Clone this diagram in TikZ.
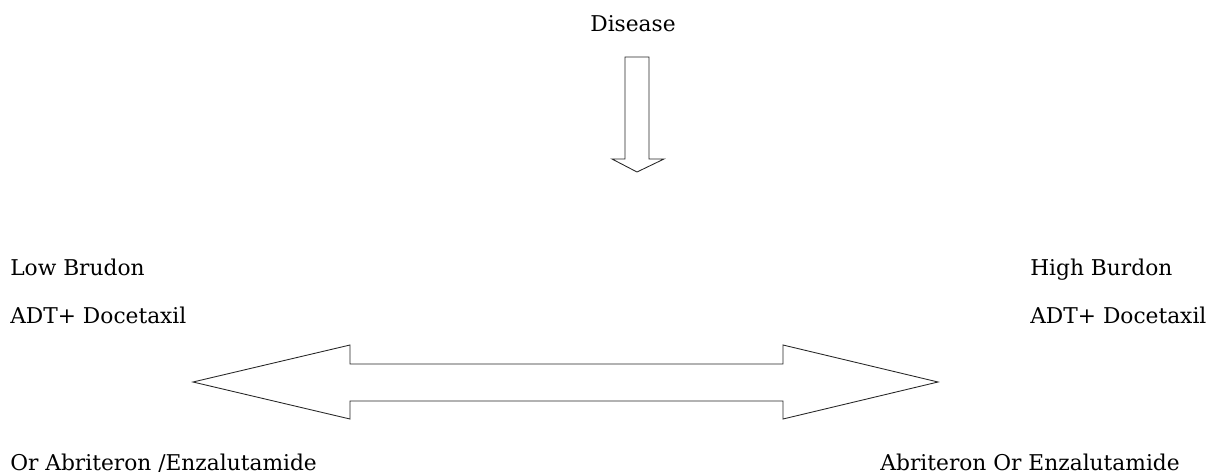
\documentclass[tikz,border=0pt]{standalone}
\usepackage{fontspec}
\setmainfont{DejaVu Serif}
\usetikzlibrary{calc}

\begin{document}
\begin{tikzpicture}[x=0.75pt, y=-0.75pt,
    lbl/.style={inner sep=0pt, font=\fontsize{16.3}{20}\selectfont, text=black},
    blockarrow/.style={draw=black!85, line width=0.65pt, line join=miter}]
  \useasboundingbox (0,0) rectangle (1223,475);
  % top label and down arrow
  \node[lbl, anchor=base] (disease) at (633,31) {Disease};
  \draw[blockarrow] (625,57) -- (649,57) -- (649,159) -- (664,159) -- (637,172)
    -- (612,159) -- (625,159) -- cycle;
  % left side
  \node[lbl, anchor=base west] (low) at (10,275) {Low Brudon};
  \node[lbl, anchor=base west] (ladt) at (10,323) {ADT+ Docetaxil};
  \node[lbl, anchor=base west] (lor) at (10,470) {Or Abriteron /Enzalutamide};
  % right side
  \node[lbl, anchor=base west] (high) at (1030,275) {High Burdon};
  \node[lbl, anchor=base west] (radt) at (1030,323) {ADT+ Docetaxil};
  \node[lbl, anchor=base east] (ror) at (1180,470) {Abriteron Or Enzalutamide};
  % double arrow
  \draw[blockarrow] (193,382) -- (350,345) -- (350,364) -- (783,364) -- (783,345)
    -- (938,382) -- (783,419) -- (783,401) -- (350,401) -- (350,419) -- cycle;
\end{tikzpicture}
\end{document}
